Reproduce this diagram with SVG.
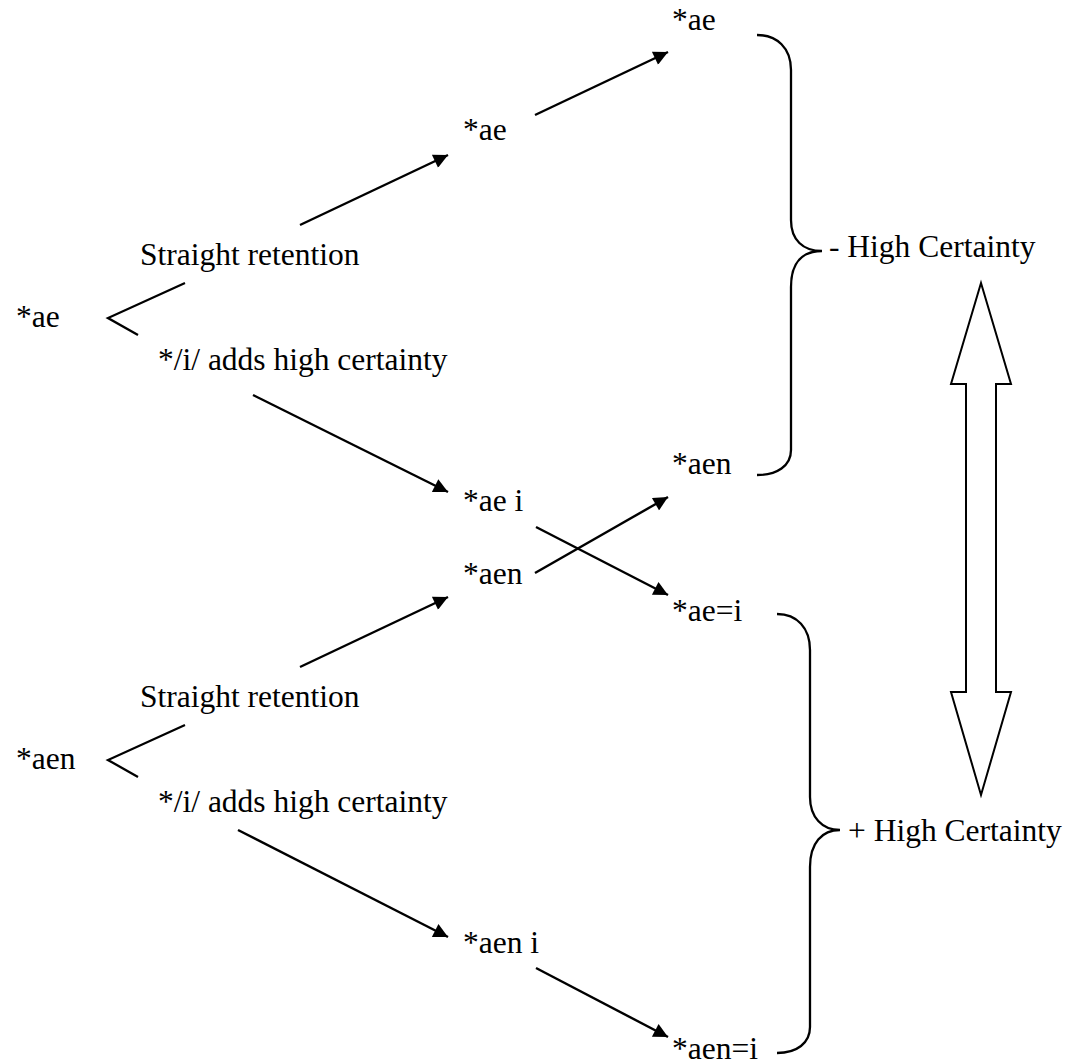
<svg xmlns="http://www.w3.org/2000/svg" width="1075" height="1063" viewBox="0 0 1075 1063">
  <style>
    text { font-family: "Liberation Serif", "Times New Roman", serif; font-size: 31.5px; fill: #000; }
    .ln { stroke: #000; stroke-width: 2.3; fill: none; }
    .arr { stroke: #000; stroke-width: 2.4; fill: none; marker-end: url(#head); }
  </style>
  <defs>
    <marker id="head" viewBox="0 0 10 10" refX="10" refY="5" markerWidth="7.5" markerHeight="6" markerUnits="strokeWidth" orient="auto">
      <path d="M0,0 L10,5 L0,10 Z" fill="#000"/>
    </marker>
  </defs>
  <rect width="1075" height="1063" fill="#fff"/>

  <!-- connectors -->
  <g id="connectors">
    <!-- branch forks -->
    <path class="ln" d="M185,283 L108,318 L138,335"/>
    <path class="ln" d="M185,725 L108,760 L138,777"/>
    <!-- *ae branches -->
    <line class="arr" x1="300" y1="225" x2="448" y2="155"/>
    <line class="arr" x1="253" y1="395" x2="448" y2="492"/>
    <line class="arr" x1="535" y1="115" x2="668" y2="52"/>
    <line class="arr" x1="536" y1="527" x2="668" y2="595"/>
    <!-- *aen branches -->
    <line class="arr" x1="300" y1="667" x2="448" y2="597"/>
    <line class="arr" x1="238" y1="830" x2="448" y2="937"/>
    <line class="arr" x1="535" y1="573" x2="668" y2="497"/>
    <line class="arr" x1="536" y1="968" x2="668" y2="1037"/>
  </g>

  <!-- grouping braces -->
  <g id="brace-minus">
    <path class="ln" d="M757,35 C777,35 791,48 791,70 L791,220 C791,240 803,251 822,251 C803,251 791,262 791,287 L791,450 C791,466 777,475 757,475"/>
  </g>
  <g id="brace-plus">
    <path class="ln" d="M777,614 C797,614 810,628 810,650 L810,797 C810,817 822,830 840,830 C822,830 810,843 810,867 L810,1027 C810,1043 797,1053 777,1053"/>
  </g>

  <!-- double-headed block arrow between the two certainty levels -->
  <g id="certainty-scale">
    <path d="M981,283 L1011,384 L996,384 L996,692 L1011,692 L981,795 L951,692 L966,692 L966,384 L951,384 Z" fill="#fff" stroke="#000" stroke-width="2" stroke-linejoin="miter"/>
  </g>

  <!-- nodes -->
  <g id="n-ae-root"><text x="16" y="327">*ae</text></g>
  <g id="n-ae-straight-label"><text x="140" y="265">Straight retention</text></g>
  <g id="n-ae-i-label"><text x="158" y="370">*/i/ adds high certainty</text></g>
  <g id="n-ae-mid"><text x="463" y="140">*ae</text></g>
  <g id="n-ae-top"><text x="672" y="30">*ae</text></g>
  <g id="n-ae-i"><text x="463" y="511">*ae i</text></g>
  <g id="n-ae-eq-i"><text x="672" y="621">*ae=i</text></g>

  <g id="n-aen-root"><text x="16" y="769">*aen</text></g>
  <g id="n-aen-straight-label"><text x="140" y="707">Straight retention</text></g>
  <g id="n-aen-i-label"><text x="158" y="812">*/i/ adds high certainty</text></g>
  <g id="n-aen-mid"><text x="463" y="584">*aen</text></g>
  <g id="n-aen-top"><text x="672" y="474">*aen</text></g>
  <g id="n-aen-i"><text x="463" y="953">*aen i</text></g>
  <g id="n-aen-eq-i"><text x="672" y="1059">*aen=i</text></g>

  <g id="n-minus-high"><text x="829" y="257">- High Certainty</text></g>
  <g id="n-plus-high"><text x="848" y="841">+ High Certainty</text></g>
</svg>
